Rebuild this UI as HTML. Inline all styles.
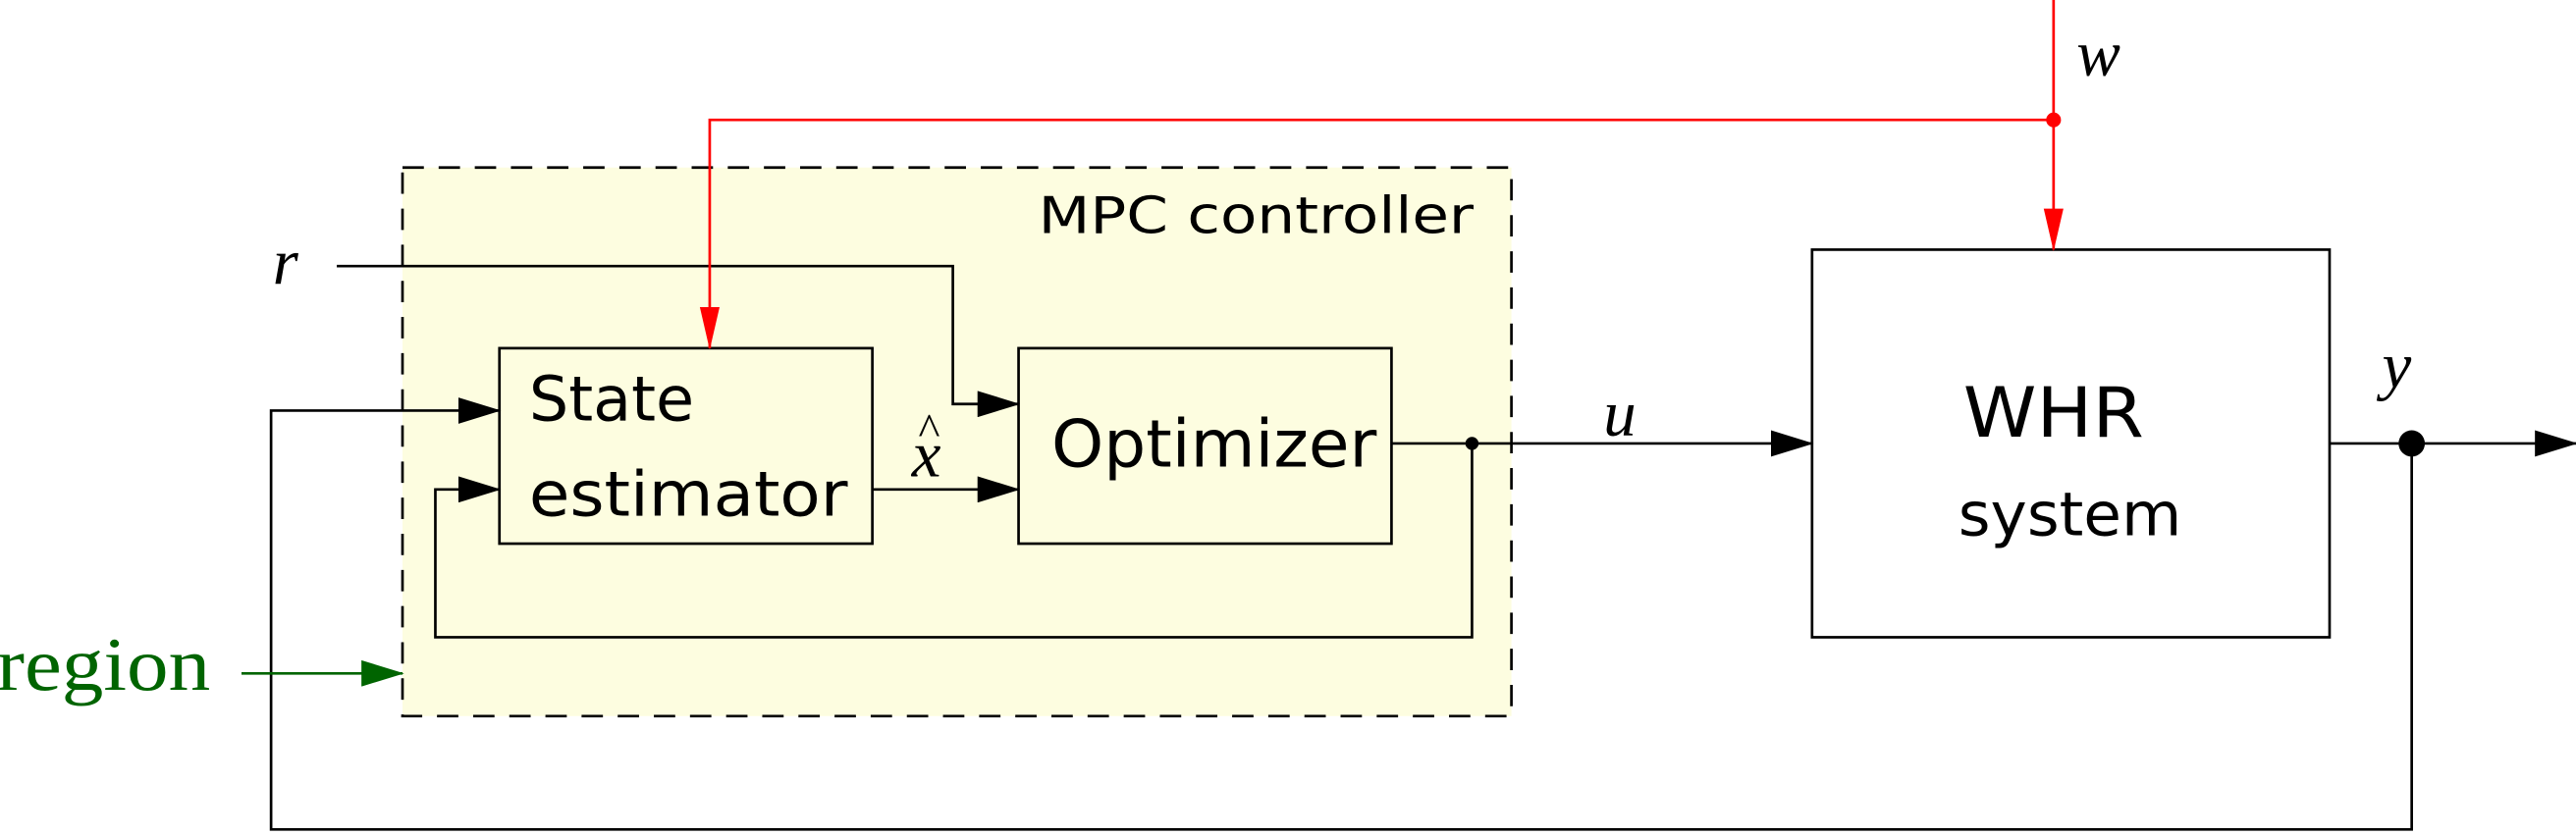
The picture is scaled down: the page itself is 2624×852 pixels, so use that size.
<!DOCTYPE html>
<html><head><meta charset="utf-8"><style>
html,body{margin:0;padding:0;background:#fff;}
svg{display:block;}
.s{font-family:"DejaVu Sans","Liberation Sans",sans-serif;}
.m{font-family:"Liberation Serif",serif;font-style:italic;}
</style></head><body>
<svg width="2624" height="852" viewBox="0 0 1568 509" preserveAspectRatio="none" xmlns="http://www.w3.org/2000/svg">
<defs>
<marker id="a" markerWidth="26" markerHeight="16" refX="25" refY="8" orient="auto" markerUnits="userSpaceOnUse"><path d="M0,0 L26,8 L0,16 Z" fill="#000"/></marker>
<marker id="r" markerWidth="26" markerHeight="16" refX="25" refY="8" orient="auto" markerUnits="userSpaceOnUse"><path d="M0,2 L26,8 L0,14 Z" fill="#f00"/></marker>
<marker id="g" markerWidth="26" markerHeight="16" refX="25" refY="8" orient="auto" markerUnits="userSpaceOnUse"><path d="M0,0 L26,8 L0,16 Z" fill="#006400"/></marker>
</defs>
<rect x="245" y="102" width="675" height="334" fill="#fdfde0" stroke="#000" stroke-width="1.6" stroke-dasharray="13,9"/>
<text x="632" y="142" textLength="265" lengthAdjust="spacingAndGlyphs" class="s" font-size="31">MPC controller</text>
<g fill="none" stroke="#000" stroke-width="1.6">
<rect x="304" y="212" width="227" height="119" fill="#fdfde0"/>
<rect x="620" y="212" width="227" height="119" fill="#fdfde0"/>
<rect x="1103" y="152" width="315" height="236" fill="#fff"/>
<polyline points="205,162 580,162 580,246 620,246" marker-end="url(#a)"/>
<polyline points="1468,270 1468,505 165,505 165,250 304,250" marker-end="url(#a)"/>
<polyline points="896,270 896,388 265,388 265,298 304,298" marker-end="url(#a)"/>
<line x1="531" y1="298" x2="620" y2="298" marker-end="url(#a)"/>
<line x1="847" y1="270" x2="1103" y2="270" marker-end="url(#a)"/>
<line x1="1418" y1="270" x2="1568" y2="270" marker-end="url(#a)"/>
</g>
<circle cx="896" cy="270" r="4" fill="#000"/>
<circle cx="1468" cy="270" r="8" fill="#000"/>
<g fill="none" stroke="#f00" stroke-width="1.6">
<line x1="1250" y1="0" x2="1250" y2="152" marker-end="url(#r)"/>
<polyline points="1250,73 432,73 432,212" marker-end="url(#r)"/>
</g>
<circle cx="1250" cy="73" r="4.5" fill="#f00"/>
<line x1="147" y1="410" x2="245" y2="410" stroke="#006400" stroke-width="1.6" marker-end="url(#g)"/>
<text x="-2" y="420" textLength="130" lengthAdjust="spacingAndGlyphs" font-family="Liberation Serif,serif" font-size="46" fill="#006400">region</text>
<text x="322" y="256" class="s" font-size="38">State</text>
<text x="322" y="314" textLength="194" lengthAdjust="spacingAndGlyphs" class="s" font-size="38">estimator</text>
<text x="640" y="284" textLength="198" lengthAdjust="spacingAndGlyphs" class="s" font-size="40">Optimizer</text>
<text x="1195" y="266" textLength="110" lengthAdjust="spacingAndGlyphs" class="s" font-size="42">WHR</text>
<text x="1192" y="326" textLength="136" lengthAdjust="spacingAndGlyphs" class="s" font-size="37">system</text>
<text x="166" y="173" class="m" font-size="40">r</text>
<text x="1264" y="46" class="m" font-size="40">w</text>
<text x="976" y="265" class="m" font-size="40">u</text>
<text x="1450" y="236" class="m" font-size="40">y</text>
<text x="555" y="290" class="m" font-size="40">x</text>
<text x="559" y="271" font-family="Liberation Serif,serif" font-size="28">^</text>
</svg>
</body></html>
